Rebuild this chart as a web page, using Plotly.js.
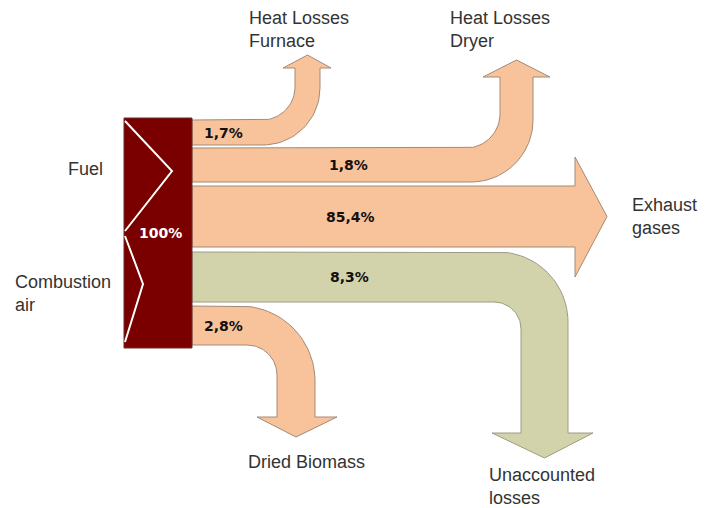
<!DOCTYPE html>
<html>
<head>
<meta charset="utf-8">
<script src="https://cdn.plot.ly/plotly-3.0.1.min.js"></script>
<style>html,body{margin:0;padding:0;background:#fff;}#chart{width:717px;height:508px;}</style>
</head>
<body>
<div id="chart"></div>
<script>
// ---- data ----
const inputLabels = ['Fuel', 'Combustion<br>air'];
const totalValue = 100;
const flowLabels = ['Heat Losses<br>Furnace', 'Heat Losses<br>Dryer', 'Exhaust<br>gases', 'Unaccounted<br>losses', 'Dried Biomass'];
const flowValues = [1.7, 1.8, 85.4, 8.3, 2.8];

// ---- drawing geometry (layout, not data) ----
const X0 = 192;
const box = {x0: 124, x1: 192, y0: 118, y1: 348};
const geom = [
  {kind: 'up',    y0: 120, y1: 145, sL: 295, sR: 320, ri: 33, ro: 57, headY: 68, headL: 283, headR: 331, tipY: 55,
   color: '#f8c39b', edge: '#a48a76', lab: {x: 202, anchor: 'left'}, name: {x: 247, y: 29}},
  {kind: 'up',    y0: 148, y1: 182, sL: 500, sR: 533, ri: 34, ro: 62, headY: 77, headL: 483, headR: 550, tipY: 60,
   color: '#f8c39b', edge: '#a48a76', lab: {x: 348, anchor: 'center'}, name: {x: 448, y: 29}},
  {kind: 'right', y0: 186, y1: 247, headX: 575, headT: 157, headB: 277, tipX: 607,
   color: '#f8c39b', edge: '#a48a76', lab: {x: 350, anchor: 'center'}, name: {x: 630, y: 216}},
  {kind: 'down',  y0: 252, y1: 302, sL: 521, sR: 568, ri: 27, ro: 70, headY: 433, headL: 492, headR: 593, tipY: 458,
   color: '#d3d3ab', edge: '#9c9c84', lab: {x: 349, anchor: 'center'}, name: {x: 487, y: 486}},
  {kind: 'down',  y0: 306, y1: 345, sL: 277, sR: 315, ri: 30, ro: 75, headY: 417, headL: 257, headR: 337, tipY: 437,
   color: '#f8c39b', edge: '#a48a76', lab: {x: 202, anchor: 'left'}, name: {x: 246, y: 462}}
];

function arc(cx, cy, r, a0, a1, n) {
  const pts = [];
  for (let i = 0; i <= n; i++) {
    const t = (a0 + (a1 - a0) * i / n) * Math.PI / 180;
    pts.push([cx + r * Math.cos(t), cy + r * Math.sin(t)]);
  }
  return pts;
}

function arrowPath(g) {
  let p = [];
  if (g.kind === 'up') {
    p.push([X0, g.y0]);
    p = p.concat(arc(g.sL - g.ri, g.y0 - g.ri, g.ri, 90, 0, 24));
    p.push([g.sL, g.headY], [g.headL, g.headY], [(g.sL + g.sR) / 2, g.tipY], [g.headR, g.headY], [g.sR, g.headY]);
    p = p.concat(arc(g.sR - g.ro, g.y1 - g.ro, g.ro, 0, 90, 24));
    p.push([X0, g.y1]);
  } else if (g.kind === 'down') {
    p.push([X0, g.y0]);
    p = p.concat(arc(g.sR - g.ro, g.y0 + g.ro, g.ro, -90, 0, 24));
    p.push([g.sR, g.headY], [g.headR, g.headY], [(g.sL + g.sR) / 2, g.tipY], [g.headL, g.headY], [g.sL, g.headY]);
    p = p.concat(arc(g.sL - g.ri, g.y1 + g.ri, g.ri, 0, -90, 24));
    p.push([X0, g.y1]);
  } else {
    p.push([X0, g.y0], [g.headX, g.y0], [g.headX, g.headT], [g.tipX, (g.y0 + g.y1) / 2], [g.headX, g.headB], [g.headX, g.y1], [X0, g.y1]);
  }
  p.push(p[0]);
  return p;
}

const traces = [];
flowValues.forEach((v, i) => {
  const pts = arrowPath(geom[i]);
  traces.push({
    type: 'scatter', mode: 'lines', fill: 'toself',
    x: pts.map(q => q[0]), y: pts.map(q => q[1]),
    fillcolor: geom[i].color, line: {color: geom[i].edge, width: 1},
    hoverinfo: 'skip', name: flowLabels[i]
  });
});

// source box
traces.push({
  type: 'scatter', mode: 'lines', fill: 'toself',
  x: [box.x0, box.x1, box.x1, box.x0, box.x0], y: [box.y0, box.y0, box.y1, box.y1, box.y0],
  fillcolor: '#7a0000', line: {color: '#6a2a2a', width: 1}, hoverinfo: 'skip'
});
// white chevrons for the inputs
const bx = box.x0 + 1;
traces.push({
  type: 'scatter', mode: 'lines',
  x: [bx, 172, bx], y: [121, 171, 231],
  line: {color: '#ffffff', width: 2}, hoverinfo: 'skip'
});
traces.push({
  type: 'scatter', mode: 'lines',
  x: [bx, 143, bx], y: [236, 284, 342],
  line: {color: '#ffffff', width: 2}, hoverinfo: 'skip'
});

const fmt = v => v.toFixed(1).replace('.', ',') + '%';
const nameFont = {family: 'Liberation Sans, Arial, sans-serif', size: 18, color: '#333333'};
const pctFont = {family: 'DejaVu Sans', size: 14, color: '#111111', weight: 'bold'};

const annotations = [];
flowValues.forEach((v, i) => {
  const g = geom[i];
  annotations.push({
    x: g.lab.x, y: (g.y0 + g.y1) / 2, xref: 'x', yref: 'y', text: '<b>' + fmt(v) + '</b>',
    showarrow: false, xanchor: g.lab.anchor, yanchor: 'middle', font: pctFont
  });
  annotations.push({
    x: g.name.x, y: g.name.y, xref: 'x', yref: 'y', text: flowLabels[i],
    showarrow: false, xanchor: 'left', yanchor: 'middle', align: 'left', font: nameFont
  });
});
annotations.push({
  x: (box.x0 + box.x1) / 2 + 2, y: 233, xref: 'x', yref: 'y', text: '<b>' + totalValue + '%</b>',
  showarrow: false, xanchor: 'center', yanchor: 'middle', font: {family: 'DejaVu Sans', size: 14, color: '#ffffff'}
});
annotations.push({
  x: 66, y: 169, xref: 'x', yref: 'y', text: inputLabels[0],
  showarrow: false, xanchor: 'left', yanchor: 'middle', align: 'left', font: nameFont
});
annotations.push({
  x: 13, y: 293, xref: 'x', yref: 'y', text: inputLabels[1],
  showarrow: false, xanchor: 'left', yanchor: 'middle', align: 'left', font: nameFont
});

const layout = {
  width: 717, height: 508,
  margin: {l: 0, r: 0, t: 0, b: 0},
  paper_bgcolor: '#ffffff', plot_bgcolor: '#ffffff',
  showlegend: false,
  xaxis: {range: [0, 717], visible: false, fixedrange: true},
  yaxis: {range: [508, 0], visible: false, fixedrange: true},
  annotations: annotations
};

Plotly.newPlot('chart', traces, layout, {staticPlot: true, displayModeBar: false});
</script>
</body>
</html>
